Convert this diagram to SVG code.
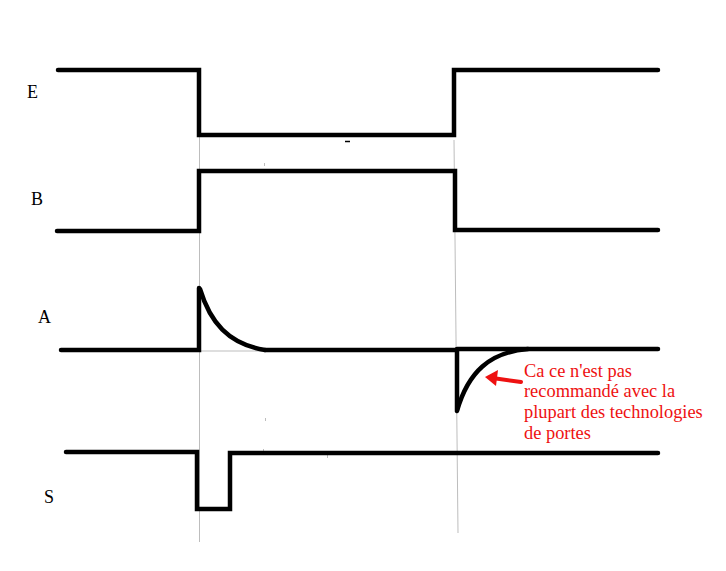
<svg xmlns="http://www.w3.org/2000/svg" width="726" height="571" viewBox="0 0 726 571">
<defs>
<style>
.sig{fill:none;stroke:#000;stroke-width:4.5;stroke-linecap:round;stroke-linejoin:miter}
.guide{fill:none;stroke:#bdbdbd;stroke-width:1}
.lbl{font-family:"Liberation Serif","Times New Roman",serif;font-size:18px;fill:#000}
.note{font-family:"Liberation Serif","Times New Roman",serif;font-size:18.4px;fill:#ee1111}
</style>
</defs>
<rect width="726" height="571" fill="#fff"/>
<g id="guides">
<line class="guide" x1="199.5" y1="137" x2="199.5" y2="542"/>
<line class="guide" x1="454" y1="140" x2="458" y2="533"/>
<line class="guide" x1="201" y1="351" x2="262" y2="351" stroke="#c8a8c8"/>
<line class="guide" x1="458" y1="347.5" x2="524" y2="347.5"/>
<line class="guide" x1="264.5" y1="163" x2="264.5" y2="166"/>
<line class="guide" x1="265.5" y1="418" x2="265.5" y2="421"/>
<line class="guide" x1="263.5" y1="449" x2="263.5" y2="453"/>
<line class="guide" x1="327.5" y1="455" x2="327.5" y2="458"/>
<line x1="345" y1="141.5" x2="350" y2="141.5" stroke="#000" stroke-width="1.5"/>
</g>
<g id="E">
<text class="lbl" x="27" y="98">E</text>
<polyline class="sig" points="58,70 199,70 199,135 454,135 454,70 658,70"/>
</g>
<g id="B">
<text class="lbl" x="31" y="205">B</text>
<polyline class="sig" points="57,231 199,231 199,171 455,171 455,230 658,230"/>
</g>
<g id="A">
<text class="lbl" x="38" y="323">A</text>
<polyline class="sig" points="61,350 199,350 199,288"/>
<path class="sig" d="M200,289 C210,322 228,344 265,350"/>
<polyline class="sig" points="265,350 457,350 457,410"/>
<path class="sig" d="M457,411 C468,372 490,352 528,349"/>
<line class="sig" x1="457" y1="349" x2="658" y2="349"/>
</g>
<g id="S">
<text class="lbl" x="44" y="503">S</text>
<polyline class="sig" points="66,452 197,452 197,509 230,509 230,453 658,453"/>
</g>
<g id="note">
<text class="note" x="524" y="377">Ca ce n'est pas</text>
<text class="note" x="524" y="397">recommandé avec la</text>
<text class="note" x="524" y="418">plupart des technologies</text>
<text class="note" x="524" y="439">de portes</text>
</g>
<g id="connectors">
<line x1="521" y1="382" x2="496" y2="378.5" stroke="#ee1111" stroke-width="4" stroke-linecap="round"/>
<polygon points="485,377 498,370 496,386" fill="#ee1111"/>
</g>
</svg>
